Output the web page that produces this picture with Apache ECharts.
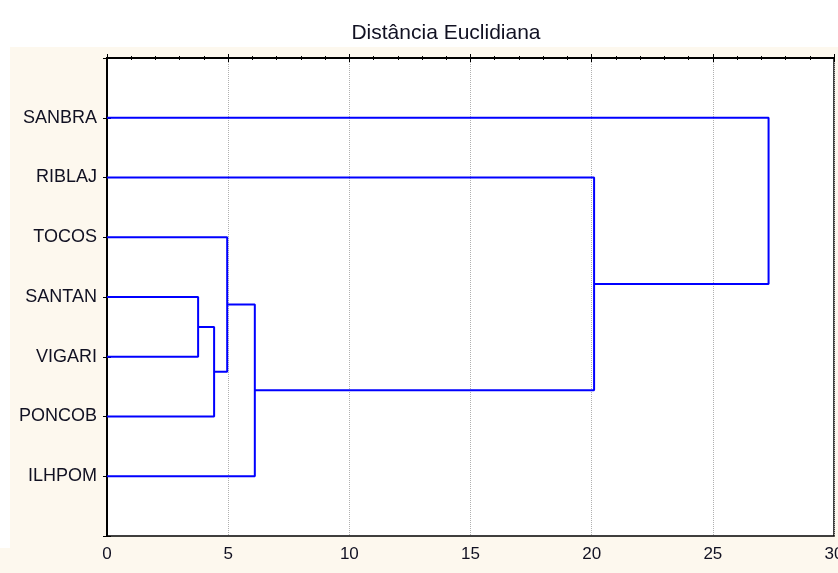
<!DOCTYPE html>
<html>
<head>
<meta charset="utf-8">
<script src="https://cdn.jsdelivr.net/npm/echarts@6/dist/echarts.min.js"></script>
<style>
html,body{margin:0;padding:0;background:#fff;}
#chart{width:838px;height:573px;}
</style>
</head>
<body>
<div id="chart"></div>
<script>
// Leaves, top to bottom
const leaves = ['SANBRA', 'RIBLAJ', 'TOCOS', 'SANTAN', 'VIGARI', 'PONCOB', 'ILHPOM'];
// Merges: node indices (0-6 leaves, 7+ clusters in merge order)
const mergeLeft = [3, 7, 2, 9, 1, 0];
const mergeRight = [4, 5, 8, 6, 10, 11];
const mergeHeight = [3.76, 4.42, 4.96, 6.1, 20.1, 27.3];
const xTicks = [0, 5, 10, 15, 20, 25, 30];
const titleText = 'Distância Euclidiana';

const nodeX = leaves.map(() => 0);
const nodeY = leaves.map((_, i) => i + 1);
const series = [];
mergeHeight.forEach((h, k) => {
  const a = mergeLeft[k], b = mergeRight[k];
  series.push({
    type: 'line',
    data: [[nodeX[a], nodeY[a]], [h, nodeY[a]], [h, nodeY[b]], [nodeX[b], nodeY[b]]],
    showSymbol: false,
    symbol: 'none',
    lineStyle: { color: '#0000ff', width: 2 },
    silent: true,
    animation: false,
    clip: false
  });
  nodeX.push(h);
  nodeY.push((nodeY[a] + nodeY[b]) / 2);
});

const chart = echarts.init(document.getElementById('chart'), null, { renderer: 'canvas' });
const font = 'Liberation Sans, Arial, sans-serif';
chart.setOption({
  backgroundColor: '#fff',
  animation: false,
  graphic: [
    { type: 'rect', z: -10, silent: true, shape: { x: 10, y: 47, width: 828, height: 526 }, style: { fill: '#fdf8ee' } },
    { type: 'rect', z: -10, silent: true, shape: { x: 0, y: 548, width: 10, height: 25 }, style: { fill: '#fdf8ee' } }
  ],
  title: {
    text: titleText,
    left: 441,
    top: 18,
    textAlign: 'center',
    textStyle: { fontFamily: font, fontSize: 21, fontWeight: 'normal', color: '#111122' }
  },
  grid: {
    left: 107, right: 4, top: 58, bottom: 37,
    outerBoundsMode: 'none',
    containLabel: false,
    show: true, backgroundColor: '#ffffff', borderColor: '#000', borderWidth: 1.5
  },
  xAxis: [{
    type: 'value', min: xTicks[0], max: xTicks[xTicks.length - 1], interval: 5,
    position: 'bottom',
    axisLine: { show: true, lineStyle: { color: '#000', width: 2 } },
    axisTick: { show: true, inside: true, length: 4, lineStyle: { color: '#000' } },
    minorTick: { show: true, splitNumber: 5, length: 2, lineStyle: { color: '#000' } },
    axisLabel: { fontFamily: font, fontSize: 17, color: '#111122', margin: 10 },
    splitLine: { show: true, lineStyle: { color: '#b0b0b0', type: 'dotted', width: 1 } }
  }, {
    type: 'value', min: xTicks[0], max: xTicks[xTicks.length - 1], interval: 5,
    position: 'top',
    axisLine: { show: true, lineStyle: { color: '#000', width: 2 } },
    axisTick: { show: true, inside: true, length: 4, lineStyle: { color: '#000' } },
    minorTick: { show: true, splitNumber: 5, length: 2, lineStyle: { color: '#000' } },
    axisLabel: { show: false },
    splitLine: { show: false }
  }],
  yAxis: [{
    type: 'value', min: 0, max: leaves.length + 1, interval: 1, inverse: true,
    position: 'left',
    axisLine: { show: true, lineStyle: { color: '#000', width: 2 } },
    axisTick: { show: true, inside: true, length: 4, lineStyle: { color: '#000' } },
    axisLabel: {
      fontFamily: font, fontSize: 18, color: '#111122', margin: 10,
      formatter: v => (v >= 1 && v <= leaves.length ? leaves[v - 1] : '')
    },
    splitLine: { show: false }
  }, {
    type: 'value', min: 0, max: leaves.length + 1, interval: 1, inverse: true,
    position: 'right',
    axisLine: { show: true, lineStyle: { color: '#000', width: 2 } },
    axisTick: { show: true, inside: true, length: 4, lineStyle: { color: '#000' } },
    axisLabel: { show: false },
    splitLine: { show: false }
  }],
  series: series
});
</script>
</body>
</html>
